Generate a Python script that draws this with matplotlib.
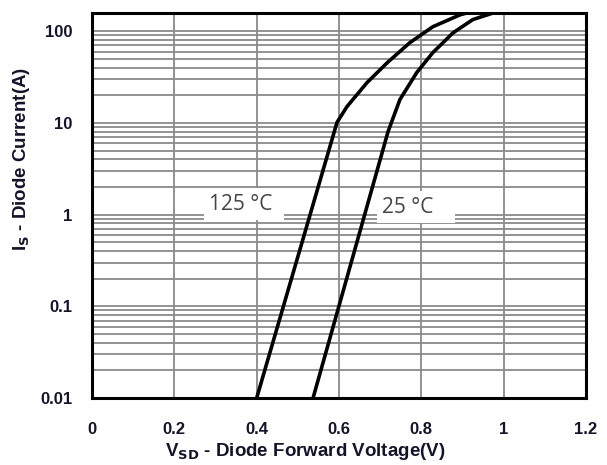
import numpy as np
import matplotlib
matplotlib.use("Agg")
import matplotlib.pyplot as plt
from matplotlib.ticker import LogLocator, FixedLocator, NullFormatter

# curve points (V, A)
v_125 = [0.40, 0.595, 0.619, 0.668, 0.717, 0.772, 0.828, 0.894, 0.91]
i_125 = [0.01, 10.1, 15.0, 27.5, 45.3, 75.0, 112.0, 151.0, 158.0]

v_25 = [0.537, 0.719, 0.748, 0.789, 0.828, 0.877, 0.925, 0.974]
i_25 = [0.01, 8.0, 18.0, 35.5, 58.5, 96.0, 134.0, 158.0]

x_ticks = [0, 0.2, 0.4, 0.6, 0.8, 1.0, 1.2]
x_labels = ["0", "0.2", "0.4", "0.6", "0.8", "1", "1.2"]
y_ticks = [0.01, 0.1, 1, 10, 100]
y_labels = ["0.01", "0.1", "1", "10", "100"]

plt.rcParams["font.family"] = ["Liberation Sans", "DejaVu Sans"]

fig = plt.figure(figsize=(6.07, 4.65), dpi=100)
ax = fig.add_axes([0.1516, 0.1441, 0.8138, 0.8279])

ax.set_yscale("log")
ax.set_xlim(0, 1.2)
ax.set_ylim(0.01, 158)

# grid: vertical every 0.2, horizontal on every log step
ax.set_xticks(x_ticks)
ax.set_xticklabels(x_labels)
ax.yaxis.set_major_locator(FixedLocator(y_ticks))
ax.set_yticklabels(y_labels)
ax.yaxis.set_minor_locator(LogLocator(base=10, subs=np.arange(2, 10)))
ax.yaxis.set_minor_formatter(NullFormatter())
ax.grid(True, which="both", axis="y", color="#8a8a8a", lw=1.3)
ax.grid(True, which="major", axis="x", color="#8a8a8a", lw=1.3)
ax.set_axisbelow(True)

ax.tick_params(which="both", length=0)
ax.tick_params(axis="x", pad=17, labelsize=12, labelcolor="#141428")
ax.tick_params(axis="y", pad=14, labelsize=12, labelcolor="#141428")
for lab in ax.get_xticklabels() + ax.get_yticklabels():
    lab.set_fontweight("bold")

for s in ax.spines.values():
    s.set_linewidth(2.2)
    s.set_color("black")

ax.plot(v_125, i_125, color="black", lw=2.6, zorder=3)
ax.plot(v_25, i_25, color="black", lw=2.6, zorder=3)

lab_kw = dict(fontsize=15, color="#444444", family=["Open Sans", "DejaVu Sans"],
              va="center", ha="left", zorder=2,
              bbox=dict(facecolor="white", edgecolor="none", pad=4))
ax.text(0.285, 1.3, "125 °C ", **lab_kw)
ax.text(0.705, 1.2, "25 °C   ", **lab_kw)

ax.set_xlabel("V$_{\\mathbf{SD}}$ - Diode Forward Voltage(V)", fontsize=13.5,
              fontweight="bold", color="#141428")
ax.xaxis.set_label_coords(0.431, -0.112)
ax.set_ylabel("I$_{\\mathbf{S}}$ - Diode Current(A)", fontsize=13.5,
              fontweight="bold", color="#141428")
ax.yaxis.set_label_coords(-0.121, 0.62)

fig.savefig("out.png", dpi=100)
